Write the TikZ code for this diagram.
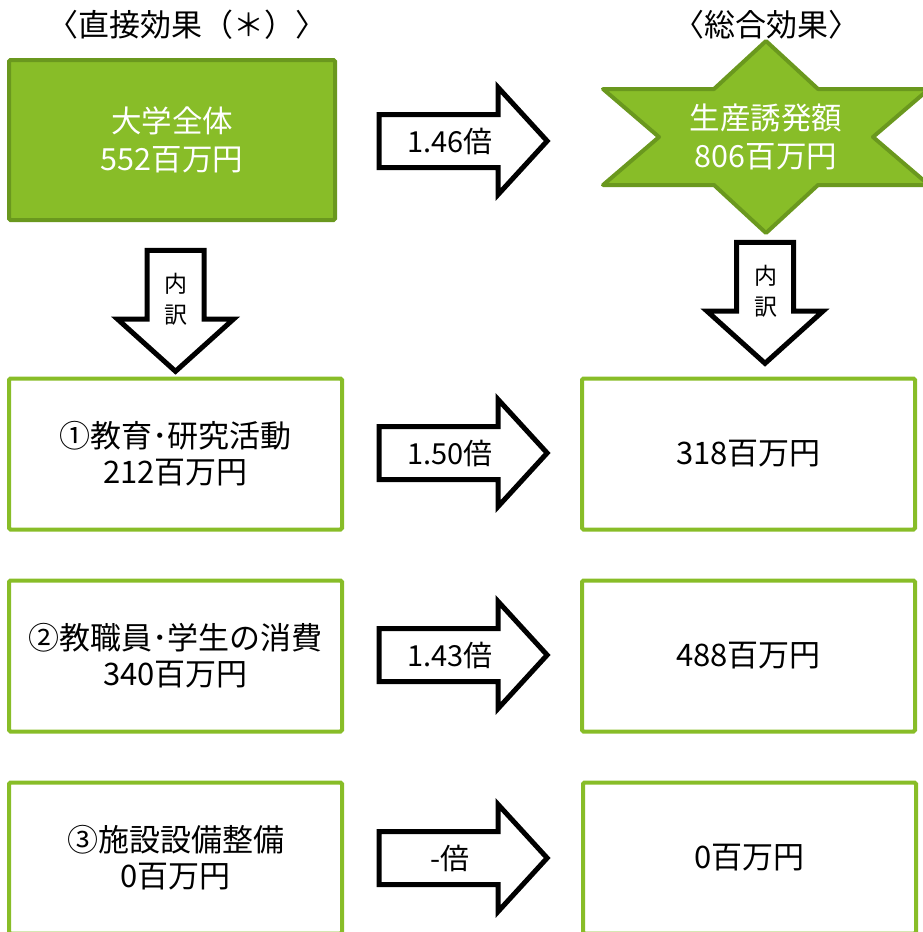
\documentclass[tikz,border=0pt]{standalone}
\usepackage{fontspec}
\setmainfont{Noto Sans CJK JP}
\usetikzlibrary{shapes.arrows}

\definecolor{leafgreen}{RGB}{136,189,40}
\definecolor{darkleaf}{RGB}{106,152,30}

\begin{document}
\begin{tikzpicture}[x=1pt, y=-1pt,
						% Define the styles used in the picture
						head text/.style={font=\fontsize{31}{34}\selectfont},
						total box/.style={rectangle, draw=darkleaf, fill=leafgreen, line width=4pt, rounded corners=1.5pt,
							minimum width=326pt, minimum height=160pt, text=white, align=center, font=\fontsize{30.5}{38}\selectfont},
						item box/.style={rectangle, draw=leafgreen, line width=4pt, rounded corners=1.5pt,
							minimum width=333pt, minimum height=151pt, align=center, font=\fontsize{31}{36}\selectfont},
						fat right/.style={single arrow, draw=black, line width=5pt, inner sep=0pt, inner ysep=24pt,
							minimum height=168pt, single arrow head extend=27pt, single arrow tip angle=95},
						fat down/.style={single arrow, shape border rotate=270, draw=black, line width=5pt, inner sep=26pt,
							minimum height=121pt, single arrow head extend=29.5pt, single arrow tip angle=96},
						times text/.style={font=\fontsize{29}{32}\selectfont},
						split text/.style={align=center, font=\fontsize{23}{31}\selectfont}
						]
						\useasboundingbox (0,0) rectangle (922,932);
						
						% Headings
						\node[head text] (hdirect) at (187,25) {〈直接効果（＊）〉};
						\node[head text] (htotal) at (766,25) {〈総合効果〉};
						
						% Top row
						\node[total box] (univ) at (172,140) {大学全体\\552百万円};
						\filldraw[draw=darkleaf, fill=leafgreen, line width=4pt, line join=round]
							(766,41) -- (714,89) -- (603,89) -- (659,137) -- (603,185) -- (714,185) -- (766,233)
							-- (818,185) -- (929,185) -- (873,137) -- (929,89) -- (818,89) -- cycle;
						\node[text=white, align=center, font=\fontsize{30.5}{38}\selectfont] (prod) at (766,137) {生産誘発額\\806百万円};
						\node[fat right] (r0) at (451,141) {};
						\node[times text] at (450,141) {1.46倍};
						
						% Breakdown arrows
						\node[fat down] (dl) at (175.5,298) {};
						\node[split text] at (176,299) {内\\訳};
						\node[fat down] (dr) at (765,290) {};
						\node[split text] at (766,291) {内\\訳};
						
						% Breakdown rows
						\node[item box] (edu) at (175.5,454) {①教育･研究活動\\212百万円};
						\node[item box] (edut) at (748.5,454) {318百万円};
						\node[fat right] (r1) at (451,453) {};
						\node[times text] at (450,453) {1.50倍};
						
						\node[item box] (cons) at (175.5,656) {②教職員･学生の消費\\340百万円};
						\node[item box] (const) at (748.5,656) {488百万円};
						\node[fat right] (r2) at (451,655) {};
						\node[times text] at (450,655) {1.43倍};
						
						\node[item box] (fac) at (175.5,858) {③施設設備整備\\0百万円};
						\node[item box] (fact) at (749.5,858) {0百万円};
						\node[fat right] (r3) at (451,858) {};
						\node[times text] at (450,858) {-倍};
					\end{tikzpicture}
\end{document}
